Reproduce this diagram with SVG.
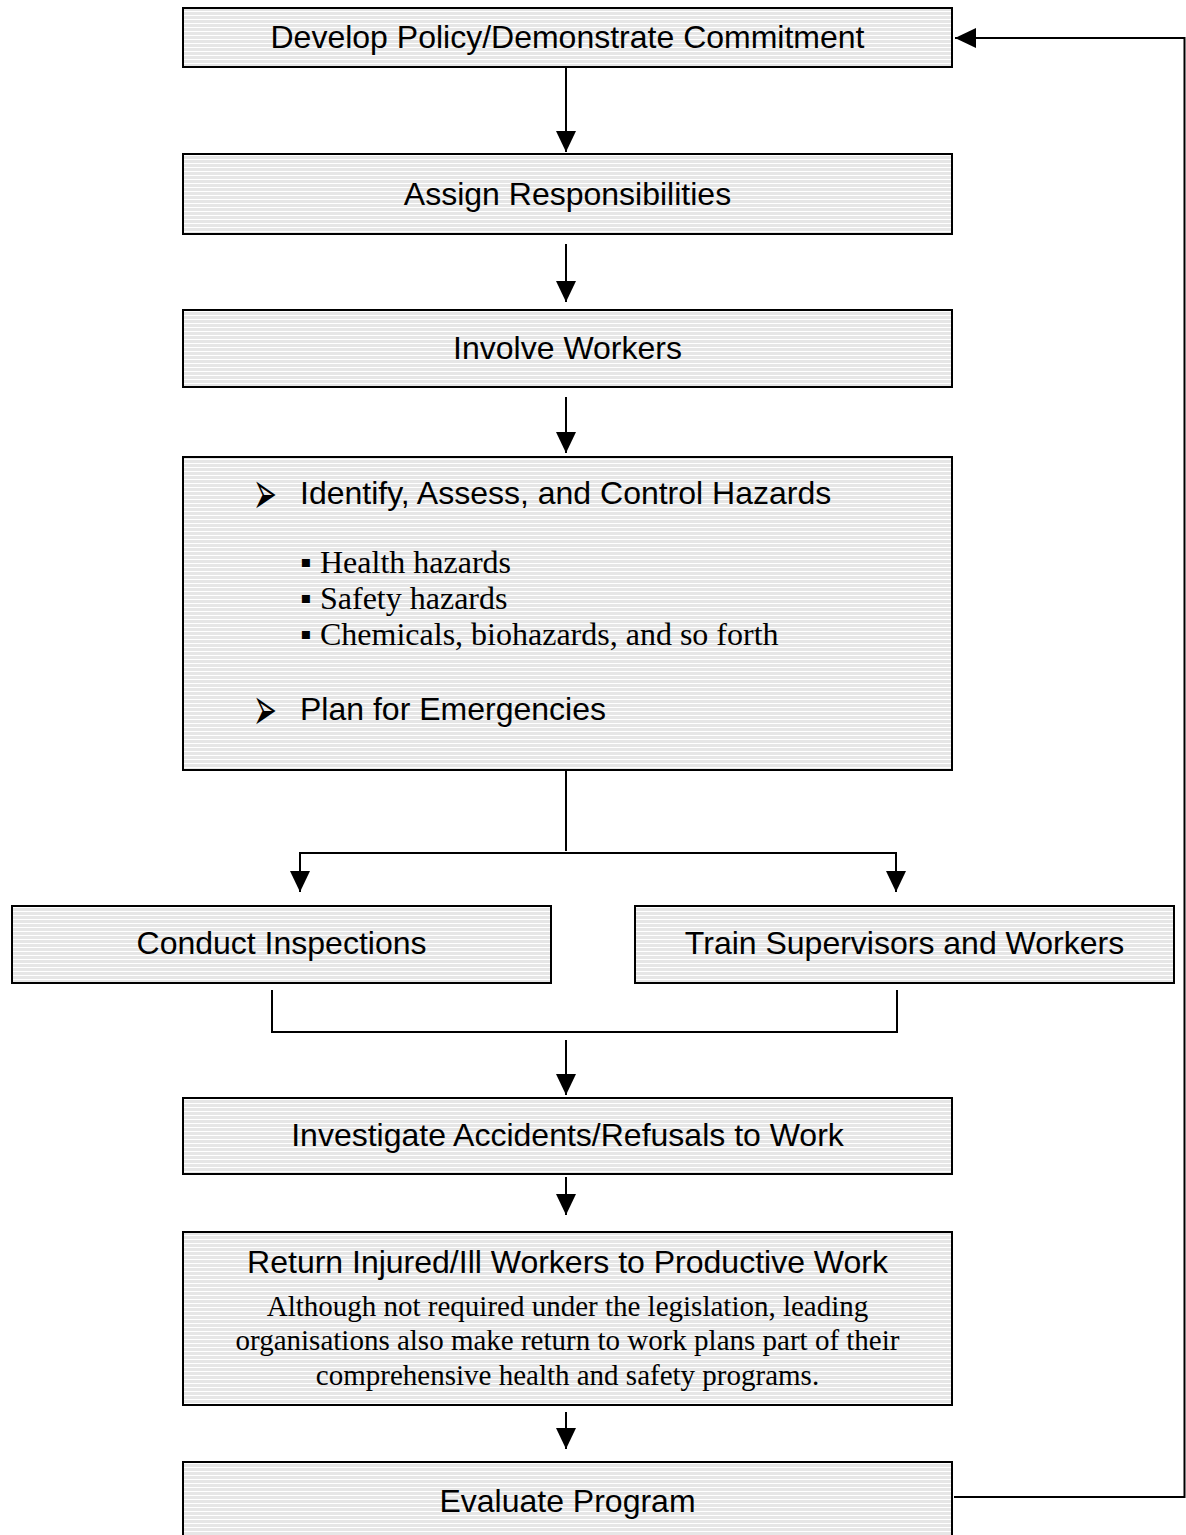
<svg xmlns="http://www.w3.org/2000/svg" width="1186" height="1535" viewBox="0 0 1186 1535">
<style>
.box{fill:url(#hatch);stroke:#000;stroke-width:2}
.t{font-family:"Liberation Sans",Arial,sans-serif;font-size:32px;fill:#000}
.c{text-anchor:middle}
.s{font-family:"Liberation Serif","Times New Roman",serif;font-size:32px;fill:#000}
.n{font-family:"Liberation Serif","Times New Roman",serif;font-size:29px;fill:#000;text-anchor:middle}
.bul{font-family:"DejaVu Sans",sans-serif;font-size:38px;fill:#000}
.ln{fill:none;stroke:#000;stroke-width:2}
.ar{fill:none;stroke:#000;stroke-width:2;marker-end:url(#ah)}
</style>
<defs>
<pattern id="hatch" patternUnits="userSpaceOnUse" width="8" height="4">
<rect width="8" height="4" fill="#ffffff"/>
<rect width="8" height="3" fill="#e6e6e6"/>
</pattern>
<marker id="ah" markerUnits="userSpaceOnUse" markerWidth="22" markerHeight="22" viewBox="0 0 22 22" refX="21" refY="10" orient="auto">
<path d="M0,0 L21,10 L0,20 z" fill="#000"/>
</marker>
</defs>

<g id="connectors">
<path class="ar" d="M566,67 V152"/>
<path class="ar" d="M566,244 V302"/>
<path class="ar" d="M566,397 V453"/>
<path class="ln" d="M566,771 V851"/>
<path class="ln" d="M299,853 H897"/>
<path class="ar" d="M300,853 V892"/>
<path class="ar" d="M896,853 V892"/>
<path class="ln" d="M272,990 V1032 H897 V990"/>
<path class="ar" d="M566,1040 V1095"/>
<path class="ar" d="M566,1177 V1215"/>
<path class="ar" d="M566,1412 V1449"/>
<path class="ar" d="M954,1497 H1184.5 V38 H955"/>
</g>

<g id="n1">
<rect class="box" x="183" y="8" width="769" height="59"/>
<text class="t c" x="567.5" y="48">Develop Policy/Demonstrate Commitment</text>
</g>
<g id="n2">
<rect class="box" x="183" y="154" width="769" height="80"/>
<text class="t c" x="567.5" y="205">Assign Responsibilities</text>
</g>
<g id="n3">
<rect class="box" x="183" y="310" width="769" height="77"/>
<text class="t c" x="567.5" y="359">Involve Workers</text>
</g>
<g id="n4">
<rect class="box" x="183" y="457" width="769" height="313"/>
<text class="bul" transform="translate(253,514) scale(0.75,1.6)">➢</text>
<text class="t" x="300" y="504">Identify, Assess, and Control Hazards</text>
<text class="s" x="300" y="573">▪</text><text class="s" x="320" y="573">Health hazards</text>
<text class="s" x="300" y="609">▪</text><text class="s" x="320" y="609">Safety hazards</text>
<text class="s" x="300" y="645">▪</text><text class="s" x="320" y="645">Chemicals, biohazards, and so forth</text>
<text class="bul" transform="translate(253,730) scale(0.75,1.6)">➢</text>
<text class="t" x="300" y="720">Plan for Emergencies</text>
</g>
<g id="n5">
<rect class="box" x="12" y="906" width="539" height="77"/>
<text class="t c" x="281.5" y="954">Conduct Inspections</text>
</g>
<g id="n6">
<rect class="box" x="635" y="906" width="539" height="77"/>
<text class="t c" x="904.5" y="954">Train Supervisors and Workers</text>
</g>
<g id="n7">
<rect class="box" x="183" y="1098" width="769" height="76"/>
<text class="t c" x="567.5" y="1146">Investigate Accidents/Refusals to Work</text>
</g>
<g id="n8">
<rect class="box" x="183" y="1232" width="769" height="173"/>
<text class="t c" x="567.5" y="1273">Return Injured/Ill Workers to Productive Work</text>
<text class="n" x="567.5" y="1316">Although not required under the legislation, leading</text>
<text class="n" x="567.5" y="1350">organisations also make return to work plans part of their</text>
<text class="n" x="567.5" y="1385">comprehensive health and safety programs.</text>
</g>
<g id="n9">
<rect class="box" x="183" y="1462" width="769" height="80"/>
<text class="t c" x="567.5" y="1512">Evaluate Program</text>
</g>
</svg>
